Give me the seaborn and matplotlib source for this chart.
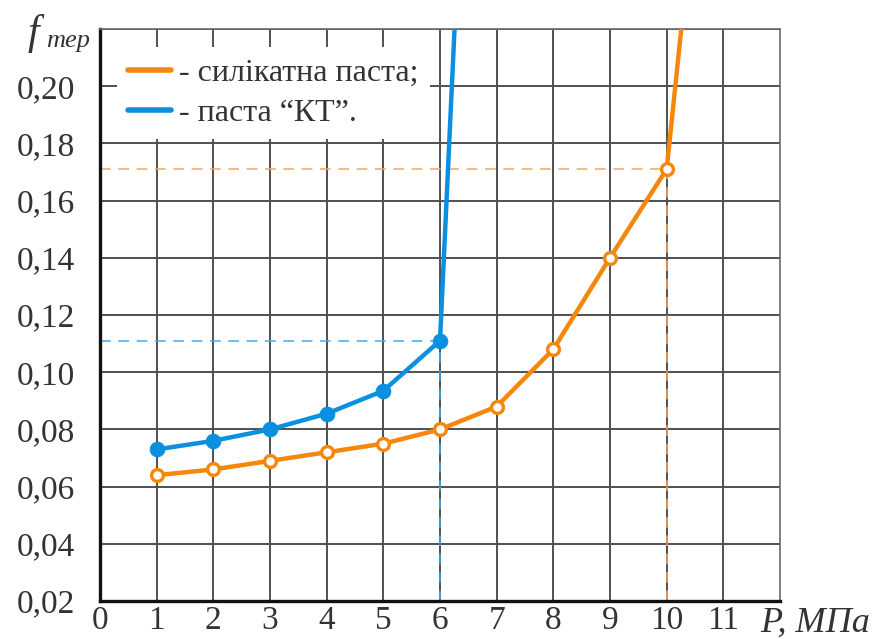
import matplotlib
matplotlib.use("Agg")
import matplotlib.pyplot as plt
from matplotlib.lines import Line2D
import seaborn as sns
import pandas as pd

# Friction coefficient vs. contact pressure for two lubricating pastes
p_silicate = [1, 2, 3, 4, 5, 6, 7, 8, 9, 10]
f_silicate = [0.064, 0.066, 0.069, 0.072, 0.075, 0.080, 0.088, 0.108, 0.140, 0.171]
p_silicate_seize = 10.31   # seizure: friction rises beyond the chart
f_silicate_seize = 0.230

p_kt = [1, 2, 3, 4, 5, 6]
f_kt = [0.073, 0.076, 0.080, 0.0855, 0.0935, 0.111]
p_kt_seize = 6.28
f_kt_seize = 0.230

x_ticks = list(range(0, 12))
y_ticks = [0.02, 0.04, 0.06, 0.08, 0.10, 0.12, 0.14, 0.16, 0.18, 0.20]
y_ticklabels = ["0,02", "0,04", "0,06", "0,08", "0,10", "0,12", "0,14", "0,16", "0,18", "0,20"]

label_silicate = "- силікатна паста;"
label_kt = "- паста “КТ”."

ORANGE = "#f5870e"
BLUE = "#0b8fe0"
ORANGE_LIGHT = "#f7a55c"
BLUE_LIGHT = "#3aaeec"
GRID = "#505050"
TEXT = "#333333"

sns.set_style("white")
plt.rcParams["font.family"] = ["Liberation Serif", "DejaVu Serif"]

df_sil = pd.DataFrame({"P": p_silicate + [p_silicate_seize],
                       "f": f_silicate + [f_silicate_seize]})
df_kt = pd.DataFrame({"P": p_kt + [p_kt_seize], "f": f_kt + [f_kt_seize]})

fig = plt.figure(figsize=(8.77, 6.39), dpi=100)
ax = fig.add_axes([100 / 877, 1 - 601 / 639, 680 / 877, 572 / 639])

ax.set_xlim(0, 12)
ax.set_ylim(0.02, 0.22)
ax.set_xticks(x_ticks)
ax.set_yticks(y_ticks + [0.22])
ax.set_yticklabels(y_ticklabels + [""])
ax.grid(True, color=GRID, lw=1.4, zorder=0)
ax.set_axisbelow(True)
ax.tick_params(axis="both", length=0, labelsize=24, colors=TEXT)
ax.tick_params(axis="y", pad=18)
ax.tick_params(axis="x", pad=3)

# reference guides at the last point before seizure
dash = (0, (7, 5))
ax.hlines(f_kt[-1], 0, p_kt[-1], colors=BLUE_LIGHT, lw=1.1, linestyles=dash, zorder=2)
ax.vlines(p_kt[-1], 0.02, f_kt[-1], colors=BLUE_LIGHT, lw=1.1, linestyles=dash, zorder=2)
ax.hlines(f_silicate[-1], 0, p_silicate[-1], colors=ORANGE_LIGHT, lw=1.1,
          linestyles=dash, zorder=2)
ax.vlines(p_silicate[-1], 0.02, f_silicate[-1], colors=ORANGE_LIGHT, lw=1.1,
          linestyles=dash, zorder=2)

sns.lineplot(data=df_sil, x="P", y="f", ax=ax, color=ORANGE, lw=3.2,
             marker="o", markersize=8.5, markerfacecolor="white",
             markeredgecolor=ORANGE, markeredgewidth=2.4,
             markevery=list(range(len(p_silicate))), zorder=4,
             label=label_silicate, solid_joinstyle="round")
sns.lineplot(data=df_kt, x="P", y="f", ax=ax, color=BLUE, lw=3.2,
             marker="o", markersize=10.5, markerfacecolor=BLUE,
             markeredgecolor=BLUE, markevery=list(range(len(p_kt))),
             zorder=4, label=label_kt, solid_joinstyle="round")

ax.set_xlabel("")
ax.set_ylabel("")

for side in ("left", "bottom"):
    ax.spines[side].set_color("#111111")
    ax.spines[side].set_linewidth(2.4)
for side in ("top", "right"):
    ax.spines[side].set_color("#6a6a6a")
    ax.spines[side].set_linewidth(1.2)

# legend: line handles only, white panel over the grid
handles = [Line2D([], [], color=ORANGE, lw=4), Line2D([], [], color=BLUE, lw=4)]
leg = ax.legend(handles, [label_silicate, label_kt], loc="upper left",
                bbox_to_anchor=(0.025, 0.968), borderaxespad=0, frameon=True,
                fontsize=23, handlelength=1.35, handletextpad=0.25,
                labelspacing=0.33, borderpad=0.35, framealpha=1)
leg.get_frame().set_facecolor("white")
leg.get_frame().set_edgecolor("none")
leg.get_frame().set_linewidth(0)
for t in leg.get_texts():
    t.set_color(TEXT)
leg.set_zorder(3)

# axis titles
fig.text(28 / 877, 1 - 44 / 639, "f", fontsize=30, style="italic",
         color=TEXT, ha="left", va="baseline")
fig.text(46 / 877, 1 - 47 / 639, "тер", fontsize=19, style="italic",
         color=TEXT, ha="left", va="baseline")
fig.text(760 / 877, 1 - 632 / 639, "P, МПа", fontsize=26, style="italic",
         color=TEXT, ha="left", va="baseline")

fig.savefig("out.png", dpi=100)
